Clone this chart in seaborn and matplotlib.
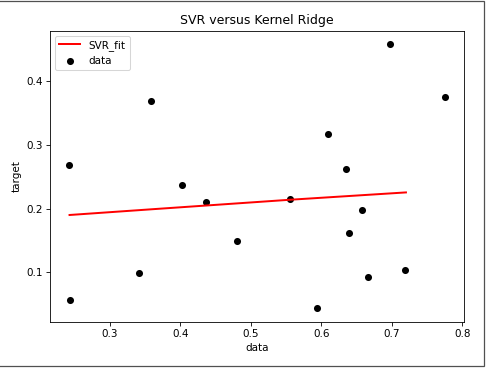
import numpy as np
import pandas as pd
import matplotlib
matplotlib.use('Agg')
import matplotlib.pyplot as plt
import seaborn as sns
from matplotlib.patches import Rectangle

data_x = [0.242, 0.244, 0.342, 0.359, 0.402, 0.437, 0.481, 0.556, 0.594,
          0.609, 0.635, 0.639, 0.658, 0.666, 0.698, 0.719, 0.776]
data_y = [0.268, 0.057, 0.099, 0.369, 0.237, 0.211, 0.149, 0.215, 0.043,
          0.317, 0.263, 0.161, 0.198, 0.092, 0.459, 0.104, 0.376]

# SVR fit line (predictions, unsorted order as plotted)
fit_x = [0.243, 0.366, 0.556, 0.720]
fit_y = [0.190, 0.1995, 0.2140, 0.2255]

df_data = pd.DataFrame({'data': data_x, 'target': data_y})
df_fit = pd.DataFrame({'data': fit_x, 'target': fit_y})

fig = plt.figure(figsize=(486 / 75, 368 / 75), dpi=75)
ax = fig.add_axes([0.1029, 0.1258, 0.8524, 0.7908])

sns.lineplot(data=df_fit, x='data', y='target', ax=ax, color='red',
             linewidth=1.9, sort=False, estimator=None, label='SVR_fit')
sns.scatterplot(data=df_data, x='data', y='target', ax=ax, color='black',
                s=46, linewidth=0, label='data')

ax.set_title("SVR versus Kernel Ridge")
ax.set_xlabel("data")
ax.set_ylabel("target")
ax.set_xticks([0.3, 0.4, 0.5, 0.6, 0.7, 0.8])
ax.set_yticks([0.1, 0.2, 0.3, 0.4])
ax.legend(loc='upper left')

# screenshot frame around the figure
fig.patches.append(Rectangle((-0.01, 0.0046), 1.0059, 0.9927,
                             transform=fig.transFigure, fill=False,
                             edgecolor='#505050', linewidth=1.2))

fig.savefig('out.png', dpi=75)
plt.close(fig)
